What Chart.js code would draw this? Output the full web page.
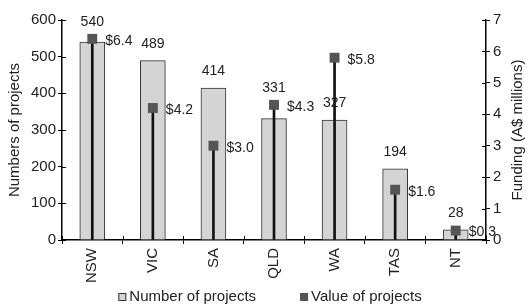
<!DOCTYPE html>
<html>
<head>
<meta charset="utf-8">
<script src="https://cdn.jsdelivr.net/npm/chart.js@4/dist/chart.umd.min.js"></script>
<style>
  body { margin: 0; background: #fff; }
  #wrap { width: 529px; height: 307px; }
</style>
</head>
<body>
<div id="wrap"><canvas id="chart"></canvas></div>
<script>
// データ
const states = ['NSW', 'VIC', 'SA', 'QLD', 'WA', 'TAS', 'NT'];
const projectCounts = [540, 489, 414, 331, 327, 194, 28];
const projectValues = [6.4, 4.2, 3.0, 4.3, 5.8, 1.6, 0.3];
const valueLabels = ['$6.4', '$4.2', '$3.0', '$4.3', '$5.8', '$1.6', '$0.3'];

const FONT = '"Liberation Sans", Arial, sans-serif';
const INK = '#222';

// 棒の上の数値と $ ラベル
const labelPlugin = {
    id: 'labels',
    afterDatasetsDraw(chart) {
        const ctx = chart.ctx;
        const bars = chart.getDatasetMeta(0).data;
        const marks = chart.getDatasetMeta(2).data;
        ctx.save();
        ctx.fillStyle = INK;
        ctx.font = '14px ' + FONT;
        ctx.textBaseline = 'middle';
        bars.forEach((bar, i) => {
            // マーカーが棒の上端に近いときはマーカーの上に置く
            const top = (bar.y - marks[i].y < 25) ? Math.min(bar.y, marks[i].y) : bar.y;
            ctx.textAlign = 'center';
            ctx.fillText(String(projectCounts[i]), bar.x, top - 17);
        });
        marks.forEach((pt, i) => {
            ctx.textAlign = 'left';
            ctx.fillText(valueLabels[i], pt.x + 13, pt.y + 2);
        });
        ctx.restore();
    }
};

// 軸の内側に出る目盛りと右軸タイトル
const axisExtras = {
    id: 'axisExtras',
    afterDraw(chart) {
        const ctx = chart.ctx;
        const { x, y, y1 } = chart.scales;
        ctx.save();
        ctx.strokeStyle = '#000';
        ctx.lineWidth = 1;
        ctx.beginPath();
        y.ticks.forEach((t, i) => {
            const py = Math.round(y.getPixelForTick(i)) + 0.5;
            ctx.moveTo(y.right, py); ctx.lineTo(y.right + 4, py);
        });
        y1.ticks.forEach((t, i) => {
            const py = Math.round(y1.getPixelForTick(i)) + 0.5;
            ctx.moveTo(y1.left - 4, py); ctx.lineTo(y1.left, py);
        });
        for (let i = 0; i <= states.length; i++) {
            const px = Math.round(x.getPixelForValue(i - 0.5)) + 0.5;
            ctx.moveTo(px, x.top - 4); ctx.lineTo(px, x.top);
        }
        ctx.stroke();

        // 右軸タイトル（下から上へ読む向き）
        ctx.translate(y1.right - 11, (y1.top + y1.bottom) / 2);
        ctx.rotate(-Math.PI / 2);
        ctx.font = '15px ' + FONT;
        ctx.fillStyle = INK;
        ctx.textAlign = 'center';
        ctx.textBaseline = 'middle';
        ctx.fillText('Funding (A$ millions)', 0, 0);
        ctx.restore();
    }
};

// 凡例（下部）
const legendPlugin = {
    id: 'bottomLegend',
    afterDraw(chart) {
        const ctx = chart.ctx;
        const area = chart.chartArea;
        const items = [
            { text: 'Number of projects', fill: '#d4d4d4', stroke: '#333' },
            { text: 'Value of projects', fill: '#555', stroke: '#555' }
        ];
        ctx.save();
        ctx.font = '15px ' + FONT;
        ctx.textBaseline = 'middle';
        ctx.textAlign = 'left';
        const box = 8, gapText = 3, gapItem = 44;
        const widths = items.map(it => box + gapText + ctx.measureText(it.text).width);
        const total = widths.reduce((a, b) => a + b, 0) + gapItem;
        let px = (area.left + area.right) / 2 - total / 2 - 4;
        const py = 297;
        items.forEach((it, i) => {
            ctx.fillStyle = it.fill;
            ctx.strokeStyle = it.stroke;
            ctx.fillRect(px, py - box / 2, box, box);
            ctx.strokeRect(px + 0.5, py - box / 2 + 0.5, box - 1, box - 1);
            ctx.fillStyle = INK;
            ctx.fillText(it.text, px + box + gapText, py);
            px += widths[i] + gapItem;
        });
        ctx.restore();
    }
};

const ctx = document.getElementById('chart').getContext('2d');
new Chart(ctx, {
    data: {
        labels: states,
        datasets: [
            {
                type: 'bar',
                label: 'Number of projects',
                data: projectCounts,
                yAxisID: 'y',
                backgroundColor: '#d4d4d4',
                borderColor: '#333',
                borderWidth: 1,
                barThickness: 25,
                grouped: false,
                order: 3
            },
            {
                type: 'bar',
                label: 'stem',
                data: projectValues,
                yAxisID: 'y1',
                backgroundColor: '#111',
                barThickness: 2,
                grouped: false,
                order: 2
            },
            {
                type: 'line',
                label: 'Value of projects',
                data: projectValues,
                yAxisID: 'y1',
                showLine: false,
                pointStyle: 'rect',
                pointRadius: 7,
                pointBackgroundColor: '#555',
                pointBorderWidth: 0,
                order: 1
            }
        ]
    },
    options: {
        responsive: true,
        maintainAspectRatio: false,
        animation: false,
        layout: { padding: { top: 20, bottom: 20, left: 0, right: 0 } },
        plugins: {
            legend: { display: false },
            tooltip: { enabled: false }
        },
        scales: {
            x: {
                grid: { drawOnChartArea: false, color: '#000', tickLength: 4, offset: true },
                border: { color: '#000', width: 1.5 },
                ticks: {
                    color: INK, font: { family: FONT, size: 15 },
                    maxRotation: 90, minRotation: 90, padding: 4
                },
                afterFit(scale) { scale.height = 47; }
            },
            y: {
                position: 'left',
                min: 0, max: 600,
                grid: { drawOnChartArea: false, color: '#000', tickLength: 4 },
                border: { color: '#000', width: 1.5 },
                ticks: { stepSize: 100, color: INK, font: { family: FONT, size: 15 }, padding: 2 },
                title: {
                    display: true, text: 'Numbers of projects',
                    color: INK, font: { family: FONT, size: 15 }, padding: { top: 6, bottom: 0 }
                },
                afterFit(scale) { scale.width = 62; }
            },
            y1: {
                position: 'right',
                min: 0, max: 7,
                grid: { drawOnChartArea: false, color: '#000', tickLength: 4 },
                border: { color: '#000', width: 1.5 },
                ticks: { stepSize: 1, color: INK, font: { family: FONT, size: 15 }, padding: 3 },
                afterFit(scale) { scale.width = 43; }
            }
        }
    },
    plugins: [labelPlugin, axisExtras, legendPlugin]
});
</script>
</body>
</html>
